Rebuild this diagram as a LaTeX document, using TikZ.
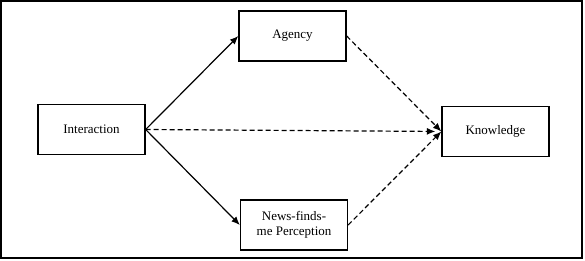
\documentclass[tikz,border=0pt]{standalone}
\usepackage{fontspec}
\setmainfont{Liberation Serif}
\usepackage{tikz}
\usetikzlibrary{positioning,arrows.meta,calc}

\tikzset{
    var/.style={draw, line width=1.3pt, minimum width=107pt, minimum height=50pt, inner sep=1pt, align=center, font=\fontsize{13}{15.5}\selectfont},
    path/.style={line width=1.2pt, -{Latex[length=8.5pt,width=7pt]}},
    indirect/.style={path, dash pattern=on 5pt off 3pt}
}

\begin{document}
\begin{tikzpicture}[x=1pt,y=1pt]
    \useasboundingbox (0,0) rectangle (585,261);
    \draw[line width=1.2pt] (1,3) rectangle (582,260);
    % variables
    \node[var] (inter) at (91.5,131.5) {Interaction};
    \node[var] (agency) at (292.5,225) {Agency};
    \node[var] (news) at (294,36) {News-finds-\\me Perception};
    \node[var] (know) at (495.5,129.5) {Knowledge};
    % paths
    \draw[path] (inter.east) -- (agency.west);
    \draw[path] (inter.east) -- (news.west);
    \draw[indirect, shorten >=6pt] (inter.east) -- (know.west);
    \draw[indirect] (agency.east) -- (know.west);
    \draw[indirect] (news.east) -- (know.west);
\end{tikzpicture}
\end{document}
